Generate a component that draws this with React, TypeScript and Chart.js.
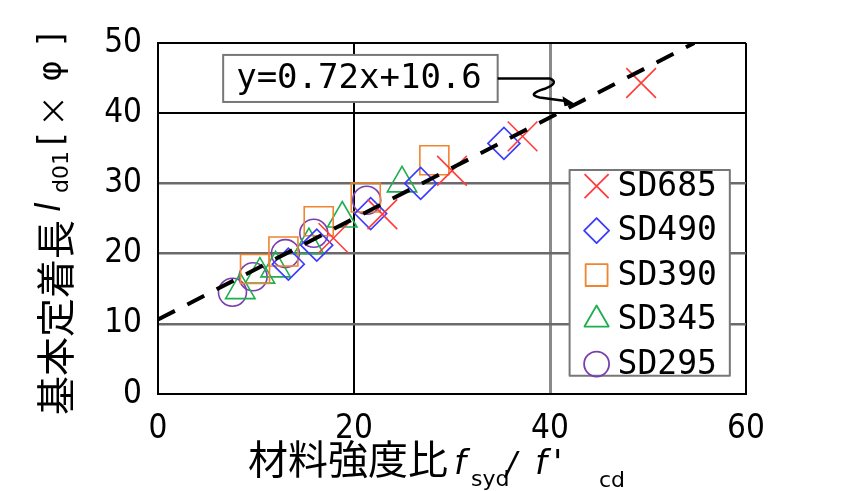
import React, { useEffect, useRef } from "react";
import { Chart, registerables } from "chart.js";
import { drawPoint } from "chart.js/helpers";

Chart.register(...registerables);

// ---- data ----
const SERIES_LABELS = ["SD685", "SD490", "SD390", "SD345", "SD295"];
const SD685_X = [17.9, 22.9, 30.0, 37.2, 49.3];
const SD685_Y = [22.2, 25.6, 31.8, 36.7, 44.3];
const SD490_X = [13.3, 16.2, 21.7, 26.8, 35.3];
const SD490_Y = [18.5, 21.2, 25.7, 30.0, 35.7];
const SD390_X = [9.9, 12.8, 16.4, 21.2, 28.2];
const SD390_Y = [17.8, 20.3, 24.6, 28.0, 33.3];
const SD345_X = [8.4, 10.4, 12.0, 15.4, 18.8, 24.9];
const SD345_Y = [14.8, 17.0, 17.9, 21.2, 25.0, 30.0];
const SD295_X = [7.6, 9.7, 13.0, 15.9, 21.3];
const SD295_Y = [14.5, 16.7, 20.0, 22.9, 27.6];

const TREND_SLOPE = 0.72;
const TREND_INTERCEPT = 10.6;
const TREND_X = [0, 54.72];
const TREND_LABEL = "y=0.72x+10.6";

const X_TICKS = [0, 20, 40, 60];
const Y_TICKS = [0, 10, 20, 30, 40, 50];

const X_TITLE_MAIN = "材料強度比";
const Y_TITLE_MAIN = "基本定着長";

// ---- styles ----
const COLORS = ["#ff3b3b", "#3b3bff", "#f0842f", "#1fae4f", "#7a3fae"];
const STYLES = ["crossRot", "rectRot", "rect", "triangle", "circle"];
const RADII = [21, 16, 20.5, 17, 14];
const LEGEND_RADII = [17, 12.5, 15.5, 14, 12.5];

const TICK_FONT = "'DejaVu Sans Condensed', 'DejaVu Sans', sans-serif";
const MONO = "'DejaVu Sans Mono', monospace";
const CJK = "'Noto Sans CJK JP', sans-serif";
const LATIN = "'DejaVu Sans', sans-serif";

function pts(xs: number[], ys: number[]) {
  return xs.map((x, i) => ({ x, y: ys[i] }));
}

const overlayPlugin = {
  id: "overlay",
  afterDraw(chart: any) {
    const ctx: CanvasRenderingContext2D = chart.ctx;
    const xs = chart.scales.x;
    const ys = chart.scales.y;
    ctx.save();

    // ---- annotation box ----
    const bx1 = xs.getPixelForValue(6.65);
    const bx2 = xs.getPixelForValue(34.66);
    const by1 = ys.getPixelForValue(48.3);
    const by2 = ys.getPixelForValue(41.6);
    ctx.fillStyle = "#fff";
    ctx.fillRect(bx1, by1, bx2 - bx1, by2 - by1);
    ctx.strokeStyle = "#777";
    ctx.lineWidth = 2;
    ctx.strokeRect(bx1, by1, bx2 - bx1, by2 - by1);
    ctx.fillStyle = "#000";
    ctx.font = `34px ${MONO}`;
    ctx.textBaseline = "middle";
    ctx.textAlign = "left";
    ctx.fillText(TREND_LABEL, bx1 + 13, (by1 + by2) / 2 + 1);

    // squiggly arrow to the trend line
    const tx0 = 42.6;
    const tipX = xs.getPixelForValue(tx0);
    const tipY = ys.getPixelForValue(TREND_SLOPE * tx0 + TREND_INTERCEPT);
    const my = (by1 + by2) / 2;
    ctx.strokeStyle = "#000";
    ctx.lineWidth = 2.5;
    ctx.lineJoin = "round";
    ctx.beginPath();
    ctx.moveTo(bx2, my);
    ctx.lineTo(bx2 + 52, my);
    ctx.quadraticCurveTo(bx2 + 62, my + 4, bx2 + 48, my + 10);
    ctx.quadraticCurveTo(bx2 + 28, my + 16, bx2 + 42, my + 19);
    ctx.lineTo(tipX - 8, tipY - 3);
    ctx.stroke();
    ctx.beginPath();
    ctx.moveTo(tipX, tipY);
    ctx.lineTo(tipX - 13, tipY - 8);
    ctx.lineTo(tipX - 11, tipY + 2);
    ctx.closePath();
    ctx.fillStyle = "#000";
    ctx.fill();

    // ---- legend ----
    const lx1 = xs.getPixelForValue(42.0);
    const lx2 = xs.getPixelForValue(58.35);
    const ly1 = ys.getPixelForValue(31.9);
    const ly2 = ys.getPixelForValue(2.6);
    ctx.fillStyle = "#fff";
    ctx.fillRect(lx1, ly1, lx2 - lx1, ly2 - ly1);
    ctx.strokeStyle = "#777";
    ctx.lineWidth = 2;
    ctx.strokeRect(lx1, ly1, lx2 - lx1, ly2 - ly1);
    const series = chart.data.datasets.filter((d: any) => d.label !== "trend");
    series.forEach((d: any, i: number) => {
      const cy = ly1 + 16 + i * 44.5;
      ctx.strokeStyle = d.borderColor;
      ctx.fillStyle = "rgba(0,0,0,0)";
      ctx.lineWidth = 1.8;
      drawPoint(ctx, { pointStyle: d.pointStyle, rotation: 0, radius: LEGEND_RADII[i], borderWidth: 1.8 } as any, lx1 + 27, cy);
      ctx.fillStyle = "#000";
      ctx.font = `33px ${MONO}`;
      ctx.textBaseline = "middle";
      ctx.textAlign = "left";
      ctx.fillText(d.label, lx1 + 48, cy + 1);
    });

    // ---- x title ----
    ctx.fillStyle = "#000";
    ctx.textBaseline = "alphabetic";
    ctx.textAlign = "left";
    ctx.font = `40px ${CJK}`;
    ctx.fillText(X_TITLE_MAIN, 248, 474);
    ctx.font = `italic 34px ${LATIN}`;
    ctx.fillText("f", 454, 474);
    ctx.font = `22px ${LATIN}`;
    ctx.fillText("syd", 471, 486);
    ctx.font = `italic 32px ${LATIN}`;
    ctx.fillText("/", 506, 474);
    ctx.font = `italic 34px ${LATIN}`;
    ctx.fillText("f", 535, 474);
    ctx.fillText("'", 553, 474);
    ctx.font = `22px ${LATIN}`;
    ctx.fillText("cd", 599, 487);

    // ---- y title (rotated) ----
    ctx.translate(53, 415);
    ctx.rotate(-Math.PI / 2);
    ctx.textBaseline = "middle";
    ctx.textAlign = "left";
    ctx.font = `39px ${CJK}`;
    ctx.fillText(Y_TITLE_MAIN, 0, 2);
    ctx.font = `italic 34px ${LATIN}`;
    ctx.fillText("l", 203, -2);
    ctx.font = `22px ${LATIN}`;
    ctx.fillText("d01", 222, 9);
    ctx.textAlign = "center";
    ctx.font = `34px ${LATIN}`;
    ctx.fillText("[", 276, 0);
    ctx.font = `32px ${CJK}`;
    ctx.fillText("×", 304, 0);
    ctx.font = `32px ${LATIN}`;
    ctx.fillText("φ", 344, 0);
    ctx.font = `34px ${LATIN}`;
    ctx.fillText("]", 376, 0);

    ctx.restore();
  },
};

export default function App() {
  const ref = useRef<HTMLCanvasElement | null>(null);

  useEffect(() => {
    if (!ref.current) return;
    const seriesX = [SD685_X, SD490_X, SD390_X, SD345_X, SD295_X];
    const seriesY = [SD685_Y, SD490_Y, SD390_Y, SD345_Y, SD295_Y];
    const datasets: any[] = [
      {
        label: "trend",
        type: "line",
        data: TREND_X.map((x) => ({ x, y: TREND_SLOPE * x + TREND_INTERCEPT })),
        borderColor: "#000",
        borderWidth: 4,
        borderDash: [19, 14],
        pointRadius: 0,
        showLine: true,
        fill: false,
        order: -1,
      },
      ...SERIES_LABELS.map((label, i) => ({
        label,
        data: pts(seriesX[i], seriesY[i]),
        pointStyle: STYLES[i],
        pointRadius: RADII[i],
        pointBorderWidth: 1.6,
        borderColor: COLORS[i],
        pointBorderColor: COLORS[i],
        backgroundColor: "rgba(0,0,0,0)",
        pointBackgroundColor: "rgba(0,0,0,0)",
        showLine: false,
      })),
    ];

    const chart = new Chart(ref.current, {
      type: "scatter",
      data: { datasets },
      options: {
        animation: false,
        responsive: false,
        devicePixelRatio: 1,
        layout: { padding: { left: 0, top: 43, right: 105, bottom: 0 } },
        plugins: { legend: { display: false }, tooltip: { enabled: false } },
        scales: {
          x: {
            type: "linear",
            min: 0,
            max: 60,
            afterBuildTicks: (s: any) => {
              s.ticks = X_TICKS.map((v) => ({ value: v }));
            },
            afterFit: (s: any) => {
              s.height = 97;
            },
            ticks: {
              color: "#000",
              padding: 16,
              font: { family: TICK_FONT, size: 33 },
              maxRotation: 0,
            },
            grid: {
              drawTicks: false,
              color: (c: any) => {
                const v = c.tick && c.tick.value;
                if (v === 40) return "#8a8a8a";
                return "#000";
              },
              lineWidth: (c: any) => {
                const v = c.tick && c.tick.value;
                if (v === 40) return 3;
                return 2;
              },
            },
            border: { color: "#000", width: 2 },
          },
          y: {
            type: "linear",
            min: 0,
            max: 50,
            afterBuildTicks: (s: any) => {
              s.ticks = Y_TICKS.map((v) => ({ value: v }));
            },
            afterFit: (s: any) => {
              s.width = 158;
            },
            ticks: {
              color: "#000",
              padding: 16,
              font: { family: TICK_FONT, size: 33 },
            },
            grid: {
              drawTicks: false,
              color: (c: any) => {
                const v = c.tick && c.tick.value;
                if (v === 10 || v === 20 || v === 30) return "#6a6a6a";
                return "#000";
              },
              lineWidth: (c: any) => {
                const v = c.tick && c.tick.value;
                if (v === 10 || v === 20 || v === 30) return 2.5;
                return 2;
              },
            },
            border: { color: "#000", width: 2 },
          },
        },
      } as any,
      plugins: [overlayPlugin],
    });
    return () => chart.destroy();
  }, []);

  return (
    <div style={{ position: "absolute", left: 0, top: 0, width: 851, height: 491, background: "#fff" }}>
      <canvas ref={ref} width={851} height={491} style={{ display: "block", width: 851, height: 491 }} />
    </div>
  );
}
